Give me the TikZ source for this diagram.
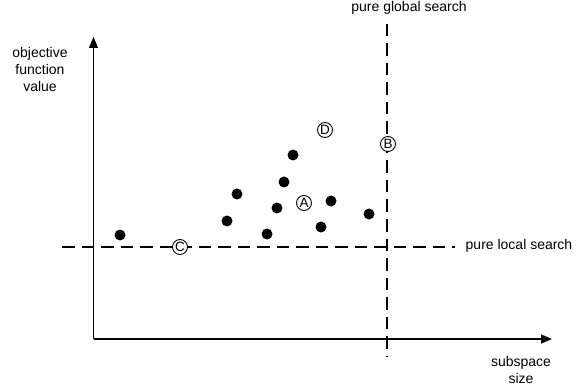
\documentclass[tikz,border=0pt]{standalone}
\usepackage{fontspec}
\setmainfont{Liberation Sans}
\usetikzlibrary{arrows.meta}
\begin{document}
\begin{tikzpicture}[x=1pt,y=-1pt,
  lbl/.style={font=\fontsize{14}{17}\selectfont, align=center, inner sep=0pt},
  axis/.style={line width=1.2pt, -{Triangle[length=11pt,width=9pt]}},
  bound/.style={line width=1.7pt, dash pattern=on 12.5pt off 7pt},
  pt/.style={circle, fill=black, minimum size=11pt, inner sep=0pt},
  tag/.style={circle, draw, line width=0.9pt, fill=white, minimum size=15pt, inner sep=0pt,
              font=\fontsize{13.5}{13.5}\selectfont}]
\useasboundingbox (0,0) rectangle (578,390);

% axes
\coordinate (o) at (93.5,339);
\coordinate (ytop) at (93.5,37);
\coordinate (xend) at (552,339);
\draw[axis] (o) -- (ytop);
\draw[axis] (o) -- (xend);

% boundaries of the search regimes
\coordinate (hl) at (62,247);
\coordinate (hr) at (455,247);
\coordinate (vt) at (387,24);
\coordinate (vb) at (387,356);
\draw[bound] (hl) -- (hr);
\draw[bound] (vt) -- (vb);

% axis and region labels
\node[lbl] (ylab) at (40,69) {objective\\function\\value};
\node[lbl] (xlab) at (521,370) {subspace\\size};
\node[lbl] (glob) at (409,8) {pure global search};
\node[lbl] (loc) at (519,246) {pure local search};

% sampled points
\foreach \i/\p in {1/{(120,235)}, 2/{(293,155)}, 3/{(284,182)}, 4/{(237,194)},
                   5/{(277,208)}, 6/{(227,221)}, 7/{(267,234)}, 8/{(331,201)},
                   9/{(321,227)}, 10/{(369,214)}}
  \node[pt] (p\i) at \p {};

% marked positions
\node[tag] (A) at (304,203) {A};
\node[tag] (B) at (388,144) {B};
\node[tag] (C) at (180,247) {C};
\node[tag] (D) at (325,130) {D};
\end{tikzpicture}
\end{document}
